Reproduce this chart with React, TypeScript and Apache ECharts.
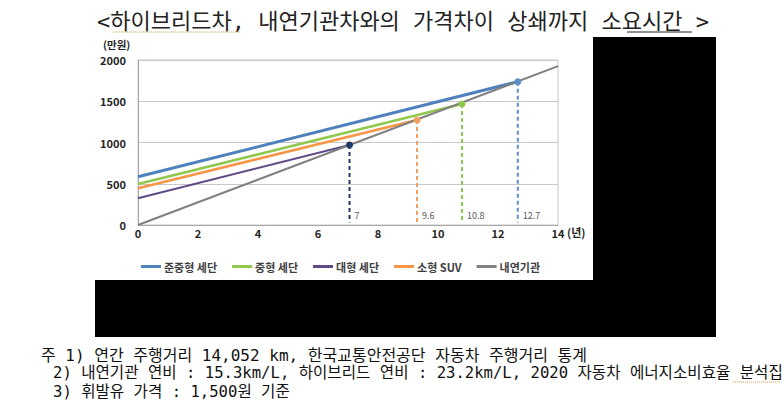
import React, { useEffect, useRef } from 'react';
import * as echarts from 'echarts';

const seriesNames = ['준중형 세단', '중형 세단', '대형 세단', '소형 SUV', '내연기관'];
const startValues = [585, 497, 324, 445, 0];
const endYears = [12.66, 10.8, 7.05, 9.3, 14];
const endValues = [1737, 1467, 970, 1273, 1925];
const breakEvenLabels = ['12.7', '10.8', '7', '9.6'];
const lineColors = ['#4f81bd', '#92c84f', '#5f4a86', '#f79646', '#808080'];
const lineWidths = [3, 2.5, 2, 2.5, 2];
const markerColors = ['#5b8fd0', '#8cc84b', '#1f3864', '#f0a060'];
const titleText = '<하이브리드차, 내연기관차와의 가격차이 상쇄까지 소요시간 >';
const footnotes = [
  '주 1) 연간 주행거리 14,052 km, 한국교통안전공단 자동차 주행거리 통계',
  '2) 내연기관 연비 : 15.3km/L, 하이브리드 연비 : 23.2km/L, 2020 자동차 에너지소비효율 분석집',
  '3) 휘발유 가격 : 1,500원 기준',
];

const KR = '"Noto Sans CJK KR", sans-serif';
const MIX = '"DejaVu Sans Mono", "Noto Sans CJK KR", monospace';

export default function App() {
  const ref = useRef<HTMLDivElement>(null);
  useEffect(() => {
    if (!ref.current) return;
    const chart = echarts.init(ref.current, undefined, { renderer: 'svg' });
    const series: any[] = [];
    seriesNames.forEach((name, i) => {
      series.push({
        type: 'line',
        name,
        data: [[0, startValues[i]], [endYears[i], endValues[i]]],
        symbol: 'none',
        lineStyle: { width: lineWidths[i], color: lineColors[i] },
        itemStyle: { color: lineColors[i] },
        z: i === 4 ? 3 : 2,
      });
    });
    breakEvenLabels.forEach((lbl, i) => {
      series.push({
        type: 'line',
        name: 'bep' + i,
        data: [
          { value: [endYears[i], endValues[i]], symbol: 'circle', symbolSize: 7 },
          {
            value: [endYears[i], 30],
            symbol: 'circle',
            symbolSize: 0,
            label: {
              show: true,
              formatter: lbl,
              position: 'right',
              distance: 5,
              offset: [0, -7],
              fontSize: 9,
              color: '#595959',
              fontFamily: KR,
            },
          },
        ],
        lineStyle: { type: [4, 3], width: 2, color: markerColors[i] },
        itemStyle: { color: markerColors[i] },
        silent: true,
        z: 4,
      });
    });

    chart.setOption({
      animation: false,
      backgroundColor: '#ffffff',
      grid: { left: 138, top: 60, right: 226, bottom: 185, show: true, borderColor: '#c8c8c8', borderWidth: 1 },
      legend: {
        data: seriesNames,
        left: 136,
        top: 256,
        icon: 'rect',
        itemWidth: 20,
        itemHeight: 3,
        itemGap: 15,
        textStyle: { fontSize: 11, fontWeight: 'bold', color: '#404040', fontFamily: KR, padding: [0, 0, 0, -2] },
      },
      xAxis: {
        type: 'value',
        min: 0,
        max: 14,
        interval: 2,
        axisLine: { show: true, lineStyle: { color: '#a6a6a6' } },
        axisTick: { show: false },
        splitLine: { show: false },
        axisLabel: { fontSize: 11, fontWeight: 'bold', color: '#262626', fontFamily: KR, margin: 2 },
      },
      yAxis: {
        type: 'value',
        min: 0,
        max: 2000,
        interval: 500,
        axisLine: { show: true, lineStyle: { color: '#a6a6a6' } },
        axisTick: { show: false },
        splitLine: { show: true, lineStyle: { color: '#c8c8c8' } },
        axisLabel: {
          fontSize: 11,
          fontWeight: 'bold',
          color: '#262626',
          fontFamily: KR,
          margin: 12,
          formatter: (v: number) => String(v),
        },
      },
      series,
      graphic: [
        {
          type: 'text',
          x: 97,
          y: 21,
          style: { text: titleText, font: '22px ' + MIX, fill: '#222', align: 'left', verticalAlign: 'middle' },
        },
        { type: 'line', shape: { x1: 627, y1: 32, x2: 692, y2: 32 }, style: { stroke: '#222', lineWidth: 1 } },
        { type: 'line', shape: { x1: 113, y1: 32, x2: 240, y2: 32 }, style: { stroke: '#d9a04a', lineWidth: 1, lineDash: [1, 1] } },
        {
          type: 'text',
          x: 103,
          y: 44,
          style: { text: '(만원)', font: 'bold 10.5px ' + KR, fill: '#262626', align: 'left', verticalAlign: 'middle' },
        },
        {
          type: 'text',
          x: 567,
          y: 232,
          style: { text: '(년)', font: 'bold 11px ' + KR, fill: '#262626', align: 'left', verticalAlign: 'middle' },
        },
        { type: 'rect', shape: { x: 593, y: 37, width: 123, height: 300 }, style: { fill: '#000' }, z: 10 },
        { type: 'rect', shape: { x: 95, y: 280, width: 621, height: 57 }, style: { fill: '#000' }, z: 10 },
        {
          type: 'text',
          x: 41,
          y: 355,
          style: { text: footnotes[0], font: '16px ' + MIX, fill: '#111', align: 'left', verticalAlign: 'middle' },
        },
        {
          type: 'text',
          x: 53,
          y: 373,
          style: { text: footnotes[1], font: '15.6px ' + MIX, fill: '#111', align: 'left', verticalAlign: 'middle' },
        },
        {
          type: 'text',
          x: 53,
          y: 392,
          style: { text: footnotes[2], font: '15.6px ' + MIX, fill: '#111', align: 'left', verticalAlign: 'middle' },
        },
        { type: 'line', shape: { x1: 733, y1: 382, x2: 780, y2: 382 }, style: { stroke: '#d9a04a', lineWidth: 1, lineDash: [1, 1] } },
      ],
    });
    return () => chart.dispose();
  }, []);
  return <div ref={ref} style={{ position: 'absolute', left: 0, top: 0, width: 784, height: 410 }} />;
}
